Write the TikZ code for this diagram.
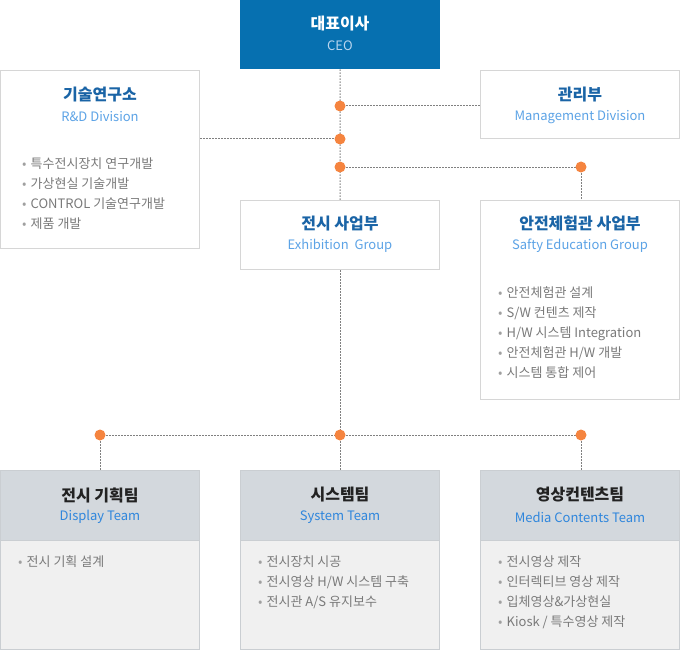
\documentclass[tikz,border=0pt]{standalone}
\usepackage{fontspec}
\setmainfont{Noto Sans CJK KR}
\usetikzlibrary{backgrounds}
\definecolor{ceoc}{HTML}{0670B0}
\definecolor{ceosub}{HTML}{B9D5EE}
\definecolor{boxline}{HTML}{D6D6D6}
\definecolor{ttlc}{HTML}{1A64A6}
\definecolor{subc}{HTML}{5CA3E6}
\definecolor{bsubc}{HTML}{2F86DC}
\definecolor{itemc}{HTML}{7A7A7A}
\definecolor{bulc}{HTML}{A0A0A0}
\definecolor{dotc}{HTML}{F5843F}
\definecolor{linec}{HTML}{808080}
\definecolor{headc}{HTML}{D3D8DD}
\definecolor{bodyc}{HTML}{F0F0F0}
\definecolor{bline}{HTML}{CACED2}
\definecolor{bttl}{HTML}{222222}
\begin{document}
\begin{tikzpicture}[x=1pt,y=-1pt,
  wbox/.style={draw=boxline,line width=1pt,fill=white,anchor=north west,inner sep=0pt,minimum width=199pt},
  ceobox/.style={fill=ceoc,anchor=north west,inner sep=0pt,minimum width=200pt,minimum height=69pt},
  bbox/.style={draw=bline,line width=1pt,fill=bodyc,anchor=north west,inner sep=0pt,minimum width=199pt,minimum height=179pt},
  hbox/.style={draw=bline,line width=1pt,fill=headc,anchor=north west,inner sep=0pt,minimum width=199pt,minimum height=70pt},
  ttl/.style={font=\fontsize{16}{19}\selectfont\bfseries,text=ttlc,inner sep=0pt},
  sub/.style={font=\fontsize{13}{15}\selectfont,text=subc,inner sep=0pt},
  item/.style={font=\fontsize{13}{15}\selectfont,text=itemc,inner sep=0pt,anchor=base west},
  conn/.style={draw=linec,line width=1pt,dash pattern=on 1.5pt off 1.5pt},
  dotn/.style={circle,fill=dotc,inner sep=0pt,minimum size=11pt}]
\useasboundingbox (0,0) rectangle (680,650);
\newcommand{\bul}{\makebox[8.5pt][l]{\textcolor{bulc}{\fontsize{13}{14}\selectfont•}}}
% CEO
\node[ceobox] (ceo) at (240,0) {};
\node[font=\fontsize{16}{19}\selectfont\bfseries,text=white,inner sep=0pt] (ceoT) at (340,24) {대표이사};
\node[sub,text=ceosub] (ceoS) at (340,46) {CEO};
% R&D
\node[wbox,minimum height=178pt] (rd) at (0,70) {};
\node[ttl] (rdT) at (100,95) {기술연구소};
\node[sub] (rdS) at (100,117) {R\&D Division};
\node[item] (rd1) at (22,168) {\bul 특수전시장치 연구개발};
\node[item] (rd2) at (22,188) {\bul 가상현실 기술개발};
\node[item] (rd3) at (22,208.5) {\bul CONTROL 기술연구개발};
\node[item] (rd4) at (22,228) {\bul 제품 개발};
% Management
\node[wbox,minimum height=68pt] (mg) at (480,70) {};
\node[ttl] (mgT) at (580,95) {관리부};
\node[sub] (mgS) at (580,117) {Management Division};
% Exhibition
\node[wbox,minimum height=69pt] (ex) at (240,200) {};
\node[ttl] (exT) at (340,224) {전시 사업부};
\node[sub] (exS) at (340,246) {Exhibition\ \ Group};
% Safety
\node[wbox,minimum height=199pt] (sf) at (480,200) {};
\node[ttl] (sfT) at (580,223) {안전체험관 사업부};
\node[sub] (sfS) at (580,246) {Safty Education Group};
\node[item] (sf1) at (498,297) {\bul 안전체험관 설계};
\node[item] (sf2) at (498,317.5) {\bul S/W 컨텐츠 제작};
\node[item] (sf3) at (498,337.5) {\bul H/W 시스템 Integration};
\node[item] (sf4) at (498,357.5) {\bul 안전체험관 H/W 개발};
\node[item] (sf5) at (498,377.5) {\bul 시스템 통합 제어};
% bottom teams
\node[bbox] (dp) at (0,470) {};
\node[hbox] (dpH) at (0,470) {};
\node[ttl,text=bttl] (dpT) at (100,495) {전시 기획팀};
\node[sub,text=bsubc] (dpS) at (100,517) {Display Team};
\node[item] (dp1) at (18,566.5) {\bul 전시 기획 설계};
\node[bbox] (sy) at (240,470) {};
\node[hbox] (syH) at (240,470) {};
\node[ttl,text=bttl] (syT) at (340,495) {시스템팀};
\node[sub,text=bsubc] (syS) at (340,517) {System Team};
\node[item] (sy1) at (258,566.5) {\bul 전시장치 시공};
\node[item] (sy2) at (258,586.5) {\bul 전시영상 H/W 시스템 구축};
\node[item] (sy3) at (258,606.5) {\bul 전시관 A/S 유지보수};
\node[bbox] (md) at (480,470) {};
\node[hbox] (mdH) at (480,470) {};
\node[ttl,text=bttl] (mdT) at (580,495) {영상컨텐츠팀};
\node[sub,text=bsubc] (mdS) at (580,517) {Media Contents Team};
\node[item] (md1) at (498,566.5) {\bul 전시영상 제작};
\node[item] (md2) at (498,586.5) {\bul 인터렉티브 영상 제작};
\node[item] (md3) at (498,606.5) {\bul 입체영상\&가상현실};
\node[item] (md4) at (498,626.5) {\bul Kiosk / 특수영상 제작};
% dots
\node[dotn] (d1) at (340,106) {};
\node[dotn] (d2) at (340,139) {};
\node[dotn] (d3) at (340,167) {};
\node[dotn] (d4) at (581,167) {};
\node[dotn] (e1) at (100,435) {};
\node[dotn] (e2) at (340,435) {};
\node[dotn] (e3) at (581,435) {};
% connectors
\begin{scope}[on background layer]
\draw[conn] (ceo.south) -- (ex.north);
\draw[conn] (d1.center) -- (mg.west |- d1);
\draw[conn] (rd.east |- d2) -- (d2.center);
\draw[conn] (d3.center) -- (d4.center);
\draw[conn] (d4.center) -- (sf.north -| d4);
\draw[conn] (ex.south) -- (e2.center);
\draw[conn] (e1.center) -- (e3.center);
\draw[conn] (e1.center) -- (dp.north -| e1);
\draw[conn] (e2.center) -- (sy.north -| e2);
\draw[conn] (e3.center) -- (md.north -| e3);
\end{scope}
\end{tikzpicture}
\end{document}
